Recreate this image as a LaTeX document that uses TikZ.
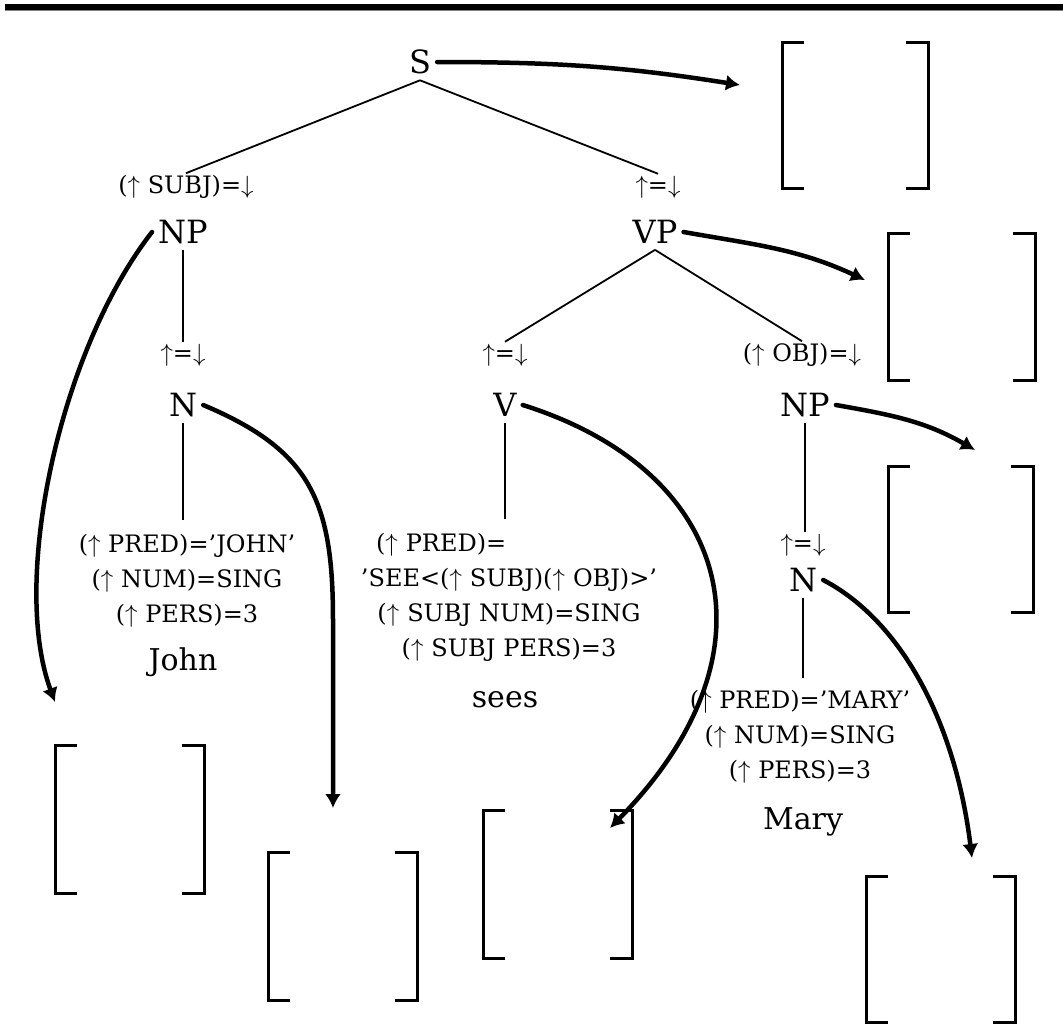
\documentclass[tikz,border=0pt]{standalone}
\usepackage{fontspec}
\setmainfont{DejaVu Serif}
\usetikzlibrary{arrows.meta}

\newcommand\upar{$\uparrow$}
\newcommand\dnar{$\downarrow$}

\tikzset{
  cat/.style={font=\fontsize{32}{38}\selectfont, inner sep=6pt},
  ann/.style={font=\fontsize{24}{28}\selectfont, inner sep=2pt},
  lex/.style={font=\fontsize{24}{35}\selectfont, align=center, inner sep=2pt},
  word/.style={font=\fontsize{30}{36}\selectfont},
  tree/.style={line width=1.8pt},
  fsarrow/.style={line width=4.5pt, line cap=round, -{Latex[length=14pt,width=16pt]}},
  fsbr/.style={line width=3pt},
}

\begin{document}
\begin{tikzpicture}[x=1pt, y=-1pt]

  \useasboundingbox (0,0) rectangle (1063,1026);

  % Balken oben
  \fill (5,4) rectangle (1063,9.5);
  \draw[gray, line width=1pt] (5,10) -- (1063,10);

  % Baum
  \node[cat] (S) at (420,62) {S};
  \node[ann] (subjann) at (186,187) {(\upar{} SUBJ)=\dnar};
  \node[cat] (NPa) at (183,232) {NP};
  \node[ann] (vpann) at (658,187) {\upar=\dnar};
  \node[cat] (VP) at (655,232) {VP};

  \node[ann] (nann) at (183,355) {\upar=\dnar};
  \node[cat] (Na) at (183,405) {N};
  \node[lex] (johnlex) at (187,581)
    {(\upar{} PRED)=’JOHN’\\(\upar{} NUM)=SING\\(\upar{} PERS)=3};
  \node[word] (john) at (183,662) {John};

  \node[ann] (vann) at (505,355) {\upar=\dnar};
  \node[cat] (V) at (505,405) {V};
  \node[lex, text width=266pt] (seelex) at (509,597)
    {(\upar{} PRED)=\hfill\mbox{}\\\makebox[0pt]{’SEE<(\upar{} SUBJ)(\upar{} OBJ)>’}\\(\upar{} SUBJ NUM)=SING\\(\upar{} SUBJ PERS)=3};
  \node[word] (sees) at (505,700) {sees};

  \node[ann] (objann) at (802,355) {(\upar{} OBJ)=\dnar};
  \node[cat] (NPb) at (805,405) {NP};
  \node[ann] (n2ann) at (803,545) {\upar=\dnar};
  \node[cat] (Nb) at (803,580) {N};
  \node[lex] (marylex) at (800,737)
    {(\upar{} PRED)=’MARY’\\(\upar{} NUM)=SING\\(\upar{} PERS)=3};
  \node[word] (mary) at (803,822) {Mary};

  % Kanten
  \draw[tree] (S.south) -- (subjann.north);
  \draw[tree] (S.south) -- (vpann.north);
  \draw[tree] (NPa.south) -- (nann.north);
  \draw[tree, shorten >=12pt] (Na.south) -- (Na.south |- johnlex.north);
  \draw[tree] (VP.south) -- (vann.north);
  \draw[tree] (VP.south) -- (objann.north);
  \draw[tree, shorten >=12pt] (V.south) -- (V.south |- seelex.north);
  \draw[tree] (NPb.south) -- (NPb.south |- n2ann.north);
  \draw[tree, shorten >=10pt] (Nb.south) -- (Nb.south |- marylex.north);

  % leere Merkmalsstrukturen
  \foreach \l/\t/\r/\b in {782/42/928/188, 888/233/1035/380, 888/466/1033/612,
                           55/745/204/893, 268/852/417/1000, 483/810/632/958,
                           866/876/1015/1022} {
      \draw[fsbr] (\l+22,\t) -- (\l,\t) -- (\l,\b) -- (\l+22,\b);
      \draw[fsbr] (\r-22,\t) -- (\r,\t) -- (\r,\b) -- (\r-22,\b);
    }

  % Projektionen
  \coordinate (sfs) at (740,85);
  \coordinate (vpfs) at (865,280);
  \coordinate (npbfs) at (975,450);
  \coordinate (npafs) at (55,702);
  \coordinate (nafs) at (333,808);
  \coordinate (vfs) at (610,828);
  \coordinate (nbfs) at (972,858);

  \draw[fsarrow] (S.east) to[out=0, in=171] (sfs);
  \draw[fsarrow] (VP.east) to[out=-10, in=155] (vpfs);
  \draw[fsarrow] (NPb.east) to[out=-10, in=150] (npbfs);
  \draw[fsarrow] (NPa.west) .. controls (60,350) and (10,580) .. (npafs);
  \draw[fsarrow] (Na.east) .. controls (310,450) and (333,500) .. (333,620) -- (nafs);
  \draw[fsarrow] (V.east) .. controls (730,470) and (785,650) .. (vfs);
  \draw[fsarrow] (Nb.east) .. controls (900,620) and (955,720) .. (nbfs);

\end{tikzpicture}
\end{document}
